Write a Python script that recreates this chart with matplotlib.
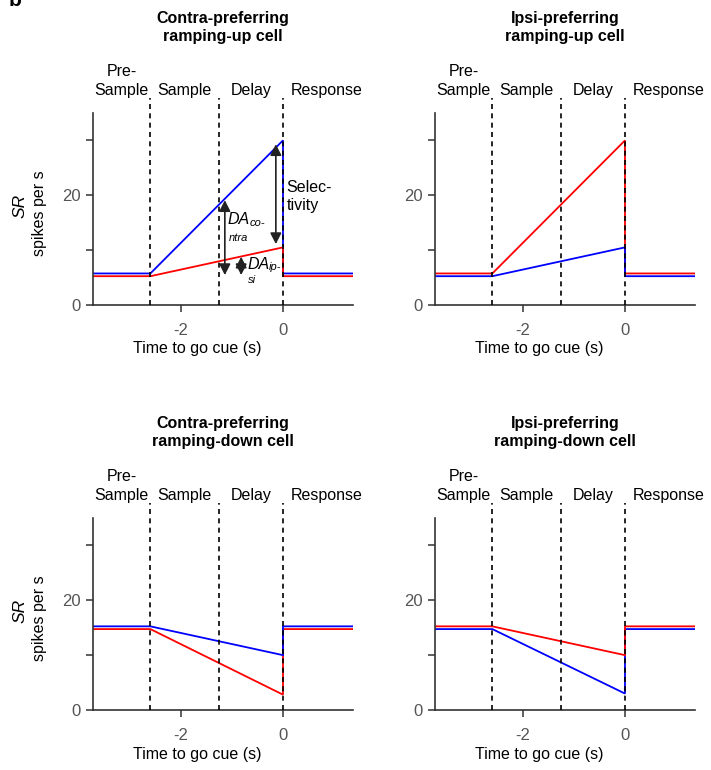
import matplotlib.pyplot as plt

plt.rcParams['font.family'] = ['Liberation Sans', 'DejaVu Sans']

# Model firing-rate traces (spikes per s) at the corners of each epoch
t_pts = [-3.75, -2.6, 0.0, 0.0, 1.4]
epoch_edges = [-2.6, -1.25, 0.0]

titles = ['Contra-preferring\nramping-up cell', 'Ipsi-preferring\nramping-up cell',
          'Contra-preferring\nramping-down cell', 'Ipsi-preferring\nramping-down cell']
contra_rates = [[5.75, 5.75, 30.0, 5.75, 5.75],
                [5.25, 5.25, 10.5, 5.25, 5.25],
                [15.25, 15.25, 10.0, 15.25, 15.25],
                [14.75, 14.75, 3.0, 14.75, 14.75]]
ipsi_rates = [[5.25, 5.25, 10.5, 5.25, 5.25],
              [5.75, 5.75, 30.0, 5.75, 5.75],
              [14.75, 14.75, 2.8, 14.75, 14.75],
              [15.25, 15.25, 10.0, 15.25, 15.25]]

# Double arrows in the first panel: (x, y_top, y_bottom)
arrow_x = [-1.14, -0.82, -0.14]
arrow_top = [19.1, 8.8, 29.3]
arrow_bottom = [5.45, 5.45, 11.1]

fig = plt.figure(figsize=(7.11, 7.7), dpi=100)
lefts = [0.1308, 0.6118]
bottoms = [0.6039, 0.0779]
w, h = 0.3657, 0.2494

axes = []
for r in range(2):
    for c in range(2):
        axes.append(fig.add_axes([lefts[c], bottoms[r], w, h]))

for i, ax in enumerate(axes):
    traces = [(contra_rates[i], 'blue'), (ipsi_rates[i], 'red')]
    # the trace with the larger swing goes underneath
    traces.sort(key=lambda p: -abs(p[0][2] - p[0][1]))
    for rates, col in traces:
        ax.plot(t_pts, rates, color=col, lw=1.3, solid_joinstyle='miter')

    for xe in epoch_edges:
        ax.plot([xe, xe], [0, 37.8], color='black', lw=1.2, ls=(0, (3, 2.6)),
                clip_on=False, zorder=5)

    ax.set_xlim(-3.725, 1.373)
    ax.set_ylim(0, 35)
    ax.set_xticks([-2, 0])
    ax.set_xticklabels(['-2', '0'])
    ax.set_yticks([0, 10, 20, 30])
    ax.set_yticklabels(['0', '', '20', ''])
    ax.spines['top'].set_visible(False)
    ax.spines['right'].set_visible(False)
    for s in ['left', 'bottom']:
        ax.spines[s].set_color('#333333')
        ax.spines[s].set_linewidth(1.2)
    ax.tick_params(axis='both', direction='out', length=5, width=1.1,
                   color='#333333', labelcolor='#555555', labelsize=12)
    ax.tick_params(axis='x', pad=8)
    ax.tick_params(axis='y', pad=4)

    ax.set_xlabel('Time to go cue (s)', fontsize=11.5)
    ax.xaxis.set_label_coords(0.40, -0.19)

    ax.text(0.5, 1.443, titles[i], transform=ax.transAxes, ha='center', va='center',
            fontsize=11.5, fontweight='bold', linespacing=1.25)

    # epoch names above the axes
    ax.text(-3.16, 42.6, 'Pre-', ha='center', va='center', fontsize=11.5)
    ax.text(-3.16, 39.1, 'Sample', ha='center', va='center', fontsize=11.5)
    ax.text(-1.93, 39.1, 'Sample', ha='center', va='center', fontsize=11.5)
    ax.text(-0.62, 39.1, 'Delay', ha='center', va='center', fontsize=11.5)
    ax.text(0.86, 39.1, 'Response', ha='center', va='center', fontsize=11.5,
            clip_on=False)

    if i % 2 == 0:
        ax.text(-0.281, 0.515, 'SR', transform=ax.transAxes, rotation=90,
                ha='center', va='center', fontsize=12.5, style='italic')
        ax.text(-0.204, 0.48, 'spikes per s', transform=ax.transAxes, rotation=90,
                ha='center', va='center', fontsize=11.5)

# annotations in the first panel
ax0 = axes[0]
for xa, y1, y0 in zip(arrow_x, arrow_top, arrow_bottom):
    ax0.annotate('', xy=(xa, y1), xytext=(xa, y0),
                 arrowprops=dict(arrowstyle='<|-|>,head_length=0.55,head_width=0.28',
                                 color='#222222', lw=1.2, shrinkA=0, shrinkB=0,
                                 mutation_scale=12))
ax0.text(-1.08, 15.5, 'DA', style='italic', fontsize=11.5, ha='left', va='center')
ax0.text(-0.66, 14.9, 'co-', style='italic', fontsize=8, ha='left', va='center')
ax0.text(-1.06, 12.3, 'ntra', style='italic', fontsize=8, ha='left', va='center')
ax0.text(-0.70, 7.45, 'DA', style='italic', fontsize=11.5, ha='left', va='center')
ax0.text(-0.28, 6.9, 'ip-', style='italic', fontsize=8, ha='left', va='center')
ax0.text(-0.69, 4.5, 'si', style='italic', fontsize=8, ha='left', va='center')
ax0.text(0.07, 19.8, 'Selec-\ntivity', fontsize=11.5, ha='left', va='center',
         linespacing=1.2)

fig.text(0.012, 1 - 6 / 770, 'b', fontsize=15, fontweight='bold', ha='left',
         va='baseline')

fig.savefig('out.png', dpi=100)
